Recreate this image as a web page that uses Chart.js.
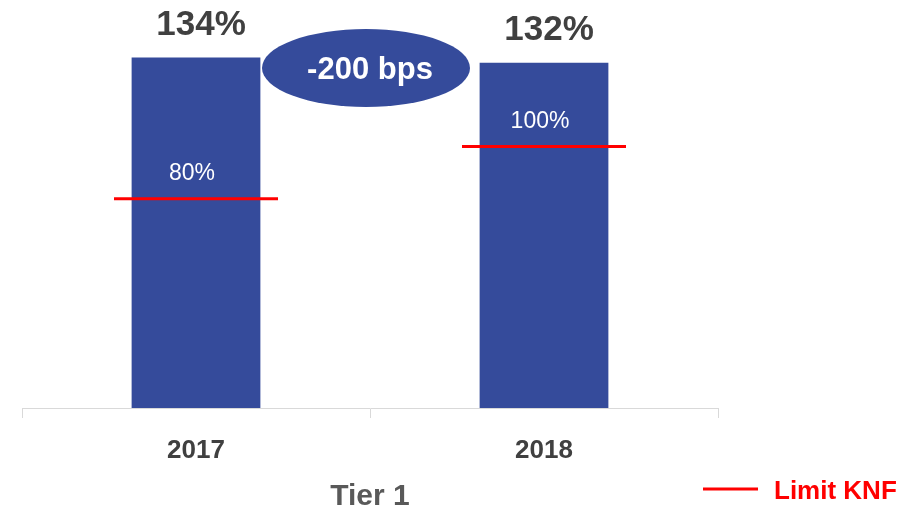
<!DOCTYPE html>
<html>
<head>
<meta charset="utf-8">
<script src="https://cdn.jsdelivr.net/npm/chart.js@4/dist/chart.umd.min.js"></script>
<style>
  html, body { margin: 0; padding: 0; background: #fff; }
  #wrap { width: 902px; height: 506px; }
</style>
</head>
<body>
<div id="wrap"><canvas id="chart" width="902" height="506"></canvas></div>
<script>
const years = ['2017', '2018'];
const tier1 = [134, 132];
const limitKnf = [80, 100];
const axisTitle = 'Tier 1';
const limitLabel = 'Limit KNF';

const barColor = '#354b9b';
const red = '#ff0000';
const FONT = '"Liberation Sans", Arial, sans-serif';

// value labels, limit labels, the bps bubble and the legend
const labelsPlugin = {
  id: 'labels',
  afterDatasetsDraw(chart) {
    const ctx = chart.ctx;
    const yScale = chart.scales.y;
    const bars = chart.getDatasetMeta(1).data;
    const limits = chart.getDatasetMeta(0).data;
    ctx.save();
    ctx.textAlign = 'center';
    ctx.textBaseline = 'middle';

    bars.forEach((bar, i) => {
      ctx.fillStyle = '#404040';
      ctx.font = 'bold 35px ' + FONT;
      ctx.fillText(tier1[i] + '%', bar.x + 5, bar.y - 32);
    });

    limits.forEach((pt, i) => {
      ctx.fillStyle = '#ffffff';
      ctx.font = '23px ' + FONT;
      ctx.fillText(limitKnf[i] + '%', pt.x - 4, pt.y - 25);
    });

    // bubble between bars
    const cx = (bars[0].x + bars[1].x) / 2 - 4;
    const cy = yScale.getPixelForValue(130);
    ctx.fillStyle = barColor;
    ctx.beginPath();
    ctx.ellipse(cx, cy, 104, 39, 0, 0, Math.PI * 2);
    ctx.fill();
    ctx.fillStyle = '#ffffff';
    ctx.font = 'bold 31px ' + FONT;
    const bps = (tier1[1] - tier1[0]) * 100;
    ctx.fillText(bps + ' bps', cx + 4, cy + 2);

    // legend
    const ly = 489;
    ctx.strokeStyle = red;
    ctx.lineWidth = 3;
    ctx.beginPath();
    ctx.moveTo(703, ly);
    ctx.lineTo(758, ly);
    ctx.stroke();
    ctx.fillStyle = red;
    ctx.textAlign = 'left';
    ctx.font = 'bold 26px ' + FONT;
    ctx.fillText(limitLabel, 774, ly + 3);
    ctx.restore();
  }
};

const ctx = document.getElementById('chart').getContext('2d');

const chart = new Chart(ctx, {
  type: 'bar',
  data: {
    labels: years,
    datasets: [
      {
        type: 'line',
        label: limitLabel,
        data: limitKnf,
        showLine: false,
        pointStyle: 'line',
        pointRadius: 82,
        pointHoverRadius: 82,
        borderColor: red,
        pointBorderWidth: 3,
        borderWidth: 3,
        clip: false,
        order: 0
      },
      {
        label: axisTitle,
        data: tier1,
        backgroundColor: barColor,
        barPercentage: 0.37,
        categoryPercentage: 1,
        grouped: false,
        order: 1
      }
    ]
  },
  options: {
    responsive: false,
    animation: false,
    layout: { autoPadding: false, padding: { left: 22, right: 184, top: 0, bottom: -6 } },
    plugins: {
      legend: { display: false },
      tooltip: { enabled: false }
    },
    scales: {
      y: { display: false, min: 0, max: 156 },
      x: {
        grid: {
          offset: true,
          drawOnChartArea: false,
          drawTicks: true,
          tickLength: 10,
          color: '#d9d9d9'
        },
        border: { display: true, color: '#d9d9d9', width: 1 },
        ticks: {
          padding: 20,
          color: '#404040',
          font: { family: FONT, size: 26, weight: 'bold', lineHeight: 1 }
        },
        title: {
          display: true,
          text: axisTitle,
          color: '#595959',
          padding: { top: -2, bottom: 0 },
          font: { family: FONT, size: 30, weight: 'bold', lineHeight: 1 }
        }
      }
    }
  },
  plugins: [labelsPlugin]
});
</script>
</body>
</html>
